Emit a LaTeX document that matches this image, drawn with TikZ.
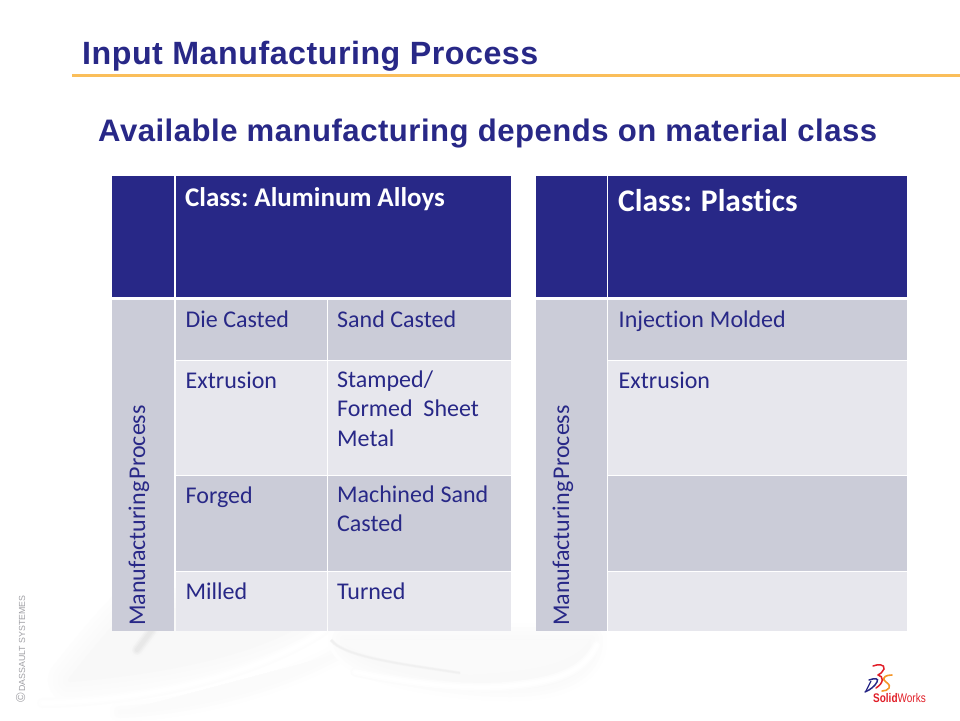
\documentclass[tikz,border=0pt]{standalone}
\usepackage{fontspec}
\setmainfont[Ligatures=NoCommon]{Carlito}
\newfontfamily\arialf{Liberation Sans}
\newfontfamily\arialspaced[LetterSpace=1.6]{Liberation Sans}
\definecolor{navy}{RGB}{40,40,135}
\definecolor{rowdark}{RGB}{203,204,216}
\definecolor{rowlight}{RGB}{231,231,237}
\definecolor{rulecol}{RGB}{250,190,90}
\definecolor{capgray}{RGB}{160,160,165}
\definecolor{swred}{RGB}{225,30,40}
\definecolor{sworange}{RGB}{245,150,40}
\tikzset{x=1pt,y=-1pt,
 cellbox/.style={fill=#1,draw=none,rectangle,inner sep=0pt,anchor=north west},
 celltext/.style={anchor=north west,inner sep=0pt,text=navy,font=\fontsize{24}{29.5}\selectfont,align=left,execute at begin node=\rule{0pt}{18pt}},
 sidetext/.style={anchor=base west,rotate=90,inner sep=0pt,text=navy,font=\fontsize{24}{25}\selectfont},
 titletext/.style={anchor=base west,inner sep=0pt,text=navy,font=\arialspaced\bfseries\fontsize{#1}{32}\selectfont},
 headtext/.style={anchor=base west,inner sep=0pt,text=white,font=\bfseries\fontsize{#1}{#1}\selectfont},
 softblob/.style={fill=black!#1,draw=black!#1,line join=round,line cap=round}
}
\begin{document}
\begin{tikzpicture}
\useasboundingbox (0,0) rectangle (960,720);
\fill[white] (0,0) rectangle (960,720);
% background: left wedge, graded outward to inward
\foreach \w/\c in {44/.6,34/1.1,24/1.6,14/2.1,4/2.6}{
 \path[softblob=\c,line width=\w pt] (70,680) .. controls (90,655) and (110,630) .. (130,610) -- (320,610) .. controls (280,645) and (190,670) .. (70,680) -- cycle;
}
% lower band under the sweep
\foreach \w/\c in {20/.5,12/1,4/1.5}{
 \path[softblob=\c,line width=\w pt] (120,712) .. controls (200,708) and (280,685) .. (335,655);
}
% white sweep
\foreach \w/\c in {10/.8,7/.4,4/0}{
 \draw[black!\c,line width=\w pt,line cap=round] (42,703) .. controls (130,702) and (250,680) .. (325,630);
}
% small grey stroke
\foreach \w/\c in {13/3,10/5,7/7,4/9}{
 \draw[black!\c,line width=\w pt,line cap=round] (137,650) -- (152,630);
}
% central bowl
\foreach \w/\c in {34/.5,26/1,18/1.5,10/2,2/2.5}{
 \path[softblob=\c,line width=\w pt] (345,640) .. controls (352,668) and (450,684) .. (510,684) .. controls (565,684) and (590,665) .. (590,640) -- cycle;
}
\foreach \w/\c in {9/1,6/.5,3/0}{
 \draw[black!\c,line width=\w pt,line cap=round] (355,672) .. controls (400,682) and (470,692) .. (520,685) .. controls (560,680) and (585,670) .. (597,645);
}
\fill[black!2] (340,640) .. controls (350,655) and (420,668) .. (470,675) .. controls (510,672) and (570,670) .. (590,640) -- cycle;
\foreach \w/\c in {3/4,1.5/6}{
 \draw[black!\c,line width=\w pt] (331,640) .. controls (345,658) and (410,665) .. (460,673);
}
% title
\node[titletext=32.2] (title) at (82,64) {Input Manufacturing Process};
\coordinate (ruleL) at (72,75.5);
\coordinate (ruleR) at (960,75.5);
\draw[rulecol,line width=2.2pt] (ruleL) -- (ruleR);
\node[titletext=31.1] (subtitle) at (98,141) {Available manufacturing depends on material class};
% left table
\node[cellbox=navy,minimum width=62pt,minimum height=121pt] (la) at (112,176) {};
\node[cellbox=navy,minimum width=335.5pt,minimum height=121pt] (lb) at (175.5,176) {};
\node[cellbox=rowdark,minimum width=62pt,minimum height=331pt] (ls) at (112,300) {};
\node[cellbox=rowdark,minimum width=151pt,minimum height=60pt] (l1a) at (175.5,300) {};
\node[cellbox=rowdark,minimum width=183pt,minimum height=60pt] (l1b) at (328,300) {};
\node[cellbox=rowlight,minimum width=151pt,minimum height=114pt] (l2a) at (175.5,361) {};
\node[cellbox=rowlight,minimum width=183pt,minimum height=114pt] (l2b) at (328,361) {};
\node[cellbox=rowdark,minimum width=151pt,minimum height=95pt] (l3a) at (175.5,476) {};
\node[cellbox=rowdark,minimum width=183pt,minimum height=95pt] (l3b) at (328,476) {};
\node[cellbox=rowlight,minimum width=151pt,minimum height=59pt] (l4a) at (175.5,572) {};
\node[cellbox=rowlight,minimum width=183pt,minimum height=59pt] (l4b) at (328,572) {};
% right table
\node[cellbox=navy,minimum width=71pt,minimum height=121pt] (ra) at (536,176) {};
\node[cellbox=navy,minimum width=299pt,minimum height=121pt] (rb) at (608,176) {};
\node[cellbox=rowdark,minimum width=71pt,minimum height=331pt] (rs) at (536,300) {};
\node[cellbox=rowdark,minimum width=299pt,minimum height=60pt] (r1) at (608,300) {};
\node[cellbox=rowlight,minimum width=299pt,minimum height=114pt] (r2) at (608,361) {};
\node[cellbox=rowdark,minimum width=299pt,minimum height=95pt] (r3) at (608,476) {};
\node[cellbox=rowlight,minimum width=299pt,minimum height=59pt] (r4) at (608,572) {};
% header text
\node[headtext=27] (lh) at (185,206) {Class:\hspace{6pt}Aluminum\hspace{6pt}Alloys};
\node[headtext=31.5] (rh) at (618,211.5) {Class:\hspace{9pt}Plastics};
% cell text
\node[celltext] (t1a) at (185.5,309.5) {Die Casted};
\node[celltext] (t1b) at (337,309.5) {Sand Casted};
\node[celltext] (t2a) at (185.5,370.5) {Extrusion};
\node[celltext] (t2b) at (337,370.5) {Stamped/\\Formed\ \ Sheet\\Metal};
\node[celltext] (t3a) at (185.5,485.5) {Forged};
\node[celltext] (t3b) at (337,485.5) {Machined\hspace{6pt}Sand\\Casted};
\node[celltext] (t4a) at (185.5,581.5) {Milled};
\node[celltext] (t4b) at (337,581.5) {Turned};
\node[celltext] (r1t) at (618.5,309.5) {Injection\hspace{6pt}Molded};
\node[celltext] (r2t) at (618.5,370.5) {Extrusion};
\node[sidetext] (lside) at (145,626) {Manufacturing\hspace{2.5pt}Process};
\node[sidetext] (rside) at (569,626) {Manufacturing\hspace{2.5pt}Process};
% copyright
\node[anchor=base west,rotate=90,inner sep=0pt,text=capgray,font=\arialf\fontsize{8.8}{9}\selectfont] (copy) at (25,703) {{\fontsize{13}{13}\selectfont\textcopyright}\,DASSAULT SYSTEMES};
% logo
\draw[swred,line width=1.5pt,line cap=round] (873,666) .. controls (878,664) and (885,664) .. (884,669) .. controls (883,672) and (880,674) .. (878,675);
\draw[swred,line width=1.5pt,line cap=round] (878,675) .. controls (884,676) and (884,683) .. (876,688);
\draw[navy,line width=1.5pt,line cap=round] (869,680) .. controls (875,678) and (879,678) .. (877,682) .. controls (875,686) and (870,690) .. (865,692);
\draw[navy,line width=1.2pt] (871,681) -- (866,691);
\draw[sworange,line width=1.6pt,line cap=round] (892,675) .. controls (886,675) and (883,677) .. (884,680) .. controls (886,683) and (891,684) .. (889,688) .. controls (888,690) and (885,691) .. (882,691);
\node[anchor=base west,inner sep=0pt,text=swred,font=\arialf\fontsize{12.5}{13}\selectfont,xscale=.8,transform shape] (logo) at (873,702.5) {\textbf{Solid}Works};
\end{tikzpicture}
\end{document}
